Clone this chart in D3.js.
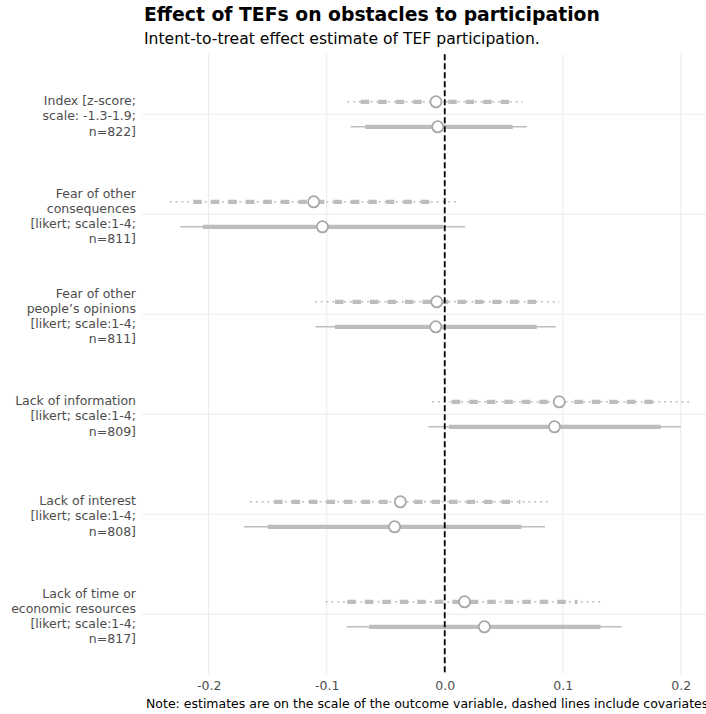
<!DOCTYPE html>
<html>
<head>
<meta charset="utf-8">
<script src="https://cdn.jsdelivr.net/npm/d3@7"></script>
<style>
  html, body { margin: 0; padding: 0; background: #ffffff; overflow: hidden; }
  svg { display: block; font-family: "DejaVu Sans", sans-serif; }
</style>
</head>
<body>
<svg id="chart" width="706" height="714"></svg>
<script>
// Outcome labels (one per row, top to bottom)
const outcomes = [
  "Index [z-score;\nscale: -1.3-1.9;\nn=822]",
  "Fear of other\nconsequences\n[likert; scale:1-4;\nn=811]",
  "Fear of other\npeople\u2019s opinions\n[likert; scale:1-4;\nn=811]",
  "Lack of information\n[likert; scale:1-4;\nn=809]",
  "Lack of interest\n[likert; scale:1-4;\nn=808]",
  "Lack of time or\neconomic resources\n[likert; scale:1-4;\nn=817]"
];

// Model with covariates (dashed): point estimate, 90% and 95% intervals
const covEstimate = [-0.0074, -0.111, -0.0067, 0.097, -0.0376, 0.0168];
const covLow90    = [-0.0712, -0.213, -0.093, 0.006, -0.1446, -0.0826];
const covHigh90   = [0.0545, -0.0072, 0.080, 0.184, 0.064, 0.1125];
const covLow95    = [-0.0825, -0.233, -0.110, -0.0107, -0.165, -0.101];
const covHigh95   = [0.066, 0.0126, 0.097, 0.207, 0.0896, 0.134];

// Model without covariates (solid)
const rawEstimate = [-0.0059, -0.1036, -0.0076, 0.093, -0.0425, 0.0336];
const rawLow90    = [-0.0675, -0.205, -0.093, 0.0037, -0.150, -0.064];
const rawHigh90   = [0.0576, -0.0015, 0.078, 0.183, 0.065, 0.132];
const rawLow95    = [-0.0797, -0.224, -0.1095, -0.0138, -0.170, -0.083];
const rawHigh95   = [0.0695, 0.0174, 0.094, 0.200, 0.085, 0.150];

const xTicks = [-0.2, -0.1, 0.0, 0.1, 0.2];

const titleText = "Effect of TEFs on obstacles to participation";
const subtitleText = "Intent-to-treat effect estimate of TEF participation.";
const captionText = "Note: estimates are on the scale of the outcome variable, dashed lines include covariates";

const svg = d3.select("#chart");

const panel = { left: 142, right: 715, top: 54.3, bottom: 674.3 };

const x = d3.scaleLinear()
  .domain([-0.2565, 0.229])
  .range([panel.left, panel.right]);

const y = d3.scalePoint()
  .domain(d3.range(outcomes.length))
  .range([panel.top, panel.bottom])
  .padding(0.6);

const dodge = 12.5;
const grid = "#ebebeb";
const markGrey = "#bdbdbd";

// Gridlines
const g = svg.append("g");
g.selectAll("line.vgrid").data(xTicks).join("line")
  .attr("x1", d => x(d)).attr("x2", d => x(d))
  .attr("y1", panel.top).attr("y2", panel.bottom)
  .attr("stroke", grid).attr("stroke-width", 1.1);
g.selectAll("line.hgrid").data(outcomes.map((_, i) => i)).join("line")
  .attr("x1", panel.left).attr("x2", panel.right)
  .attr("y1", d => y(d)).attr("y2", d => y(d))
  .attr("stroke", grid).attr("stroke-width", 1.1);

// Intervals for both models: thin = 95%, thick = 90%
const series = [
  { offset: -dodge, est: covEstimate, lo90: covLow90, hi90: covHigh90, lo95: covLow95, hi95: covHigh95, thin: "2 3.8", thick: "8.5 9" },
  { offset: dodge,  est: rawEstimate, lo90: rawLow90, hi90: rawHigh90, lo95: rawLow95, hi95: rawHigh95, thin: null, thick: null }
];

series.forEach(s => {
  const idx = outcomes.map((_, i) => i);
  const layer = svg.append("g");
  layer.selectAll("line.thin").data(idx).join("line")
    .attr("x1", i => x(s.lo95[i])).attr("x2", i => x(s.hi95[i]))
    .attr("y1", i => y(i) + s.offset).attr("y2", i => y(i) + s.offset)
    .attr("stroke", markGrey).attr("stroke-width", 1.5)
    .attr("stroke-dasharray", s.thin);
  layer.selectAll("line.thick").data(idx).join("line")
    .attr("x1", i => x(s.lo90[i])).attr("x2", i => x(s.hi90[i]))
    .attr("y1", i => y(i) + s.offset).attr("y2", i => y(i) + s.offset)
    .attr("stroke", markGrey).attr("stroke-width", 4.2)
    .attr("stroke-dasharray", s.thick);
});

// Zero reference line
svg.append("line")
  .attr("x1", x(0)).attr("x2", x(0))
  .attr("y1", panel.top).attr("y2", panel.bottom)
  .attr("stroke", "#000").attr("stroke-width", 1.8)
  .attr("stroke-dasharray", "6 3");

// Point estimates
series.forEach(s => {
  svg.append("g").selectAll("circle").data(outcomes.map((_, i) => i)).join("circle")
    .attr("cx", i => x(s.est[i]))
    .attr("cy", i => y(i) + s.offset)
    .attr("r", 5.6)
    .attr("fill", "#ffffff")
    .attr("stroke", "#a8a8a8")
    .attr("stroke-width", 1.8);
});

// Row labels
const labels = svg.append("g")
  .attr("font-size", 12.5)
  .attr("fill", "#4d4d4d")
  .attr("text-anchor", "end");
outcomes.forEach((lab, i) => {
  const lines = lab.split("\n");
  const lh = 15.2;
  const t = labels.append("text").attr("x", 136);
  lines.forEach((ln, k) => {
    t.append("tspan")
      .attr("x", 136)
      .attr("y", y(i) + (k - (lines.length - 1) / 2) * lh + 6)
      .text(ln);
  });
});

// X axis tick labels
const xAxis = d3.axisBottom(x).tickValues(xTicks).tickSize(0).tickPadding(0)
  .tickFormat(d => d3.format(".1f")(d).replace("\u2212", "-"));
const ax = svg.append("g")
  .attr("transform", `translate(0, ${panel.bottom + 7})`)
  .call(xAxis);
ax.select(".domain").remove();
ax.selectAll("text")
  .attr("font-family", "DejaVu Sans, sans-serif")
  .attr("font-size", 12.5)
  .attr("fill", "#4d4d4d");

// Title, subtitle, caption
svg.append("text").attr("x", 144).attr("y", 21)
  .attr("font-size", 18.8).attr("font-weight", "bold").attr("fill", "#000")
  .text(titleText);
svg.append("text").attr("x", 144).attr("y", 44)
  .attr("font-size", 15.6).attr("fill", "#000")
  .text(subtitleText);
svg.append("text").attr("x", 146).attr("y", 708)
  .attr("font-size", 12.5).attr("fill", "#000")
  .text(captionText);
</script>
</body>
</html>
